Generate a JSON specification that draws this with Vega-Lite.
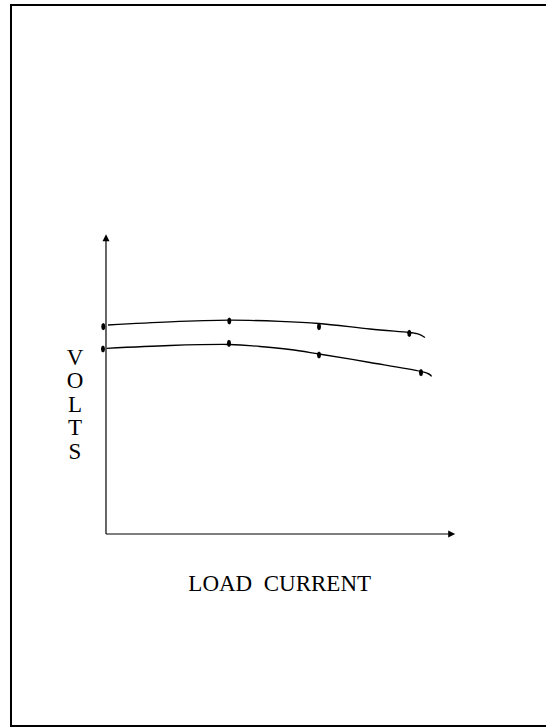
{
  "$schema": "https://vega.github.io/schema/vega-lite/v6.json",
  "width": 535,
  "height": 721,
  "autosize": {"type": "none"},
  "padding": {"left": 11, "top": 5, "right": 0, "bottom": 1},
  "background": "white",
  "config": {"view": {"stroke": null}, "font": "Liberation Serif"},
  "datasets": {
    "frame": [
      {"x": -2.714, "x2": 12.572, "y": 17.633, "y2": 17.633},
      {"x": -2.714, "x2": -2.714, "y": -6.4, "y2": 17.633},
      {"x": -2.714, "x2": 12.572, "y": -6.4, "y2": -6.4}
    ],
    "axes": [
      {"x": 0, "x2": 9.8, "y": 0, "y2": 0},
      {"x": 0, "x2": 0, "y": 0, "y2": 9.78}
    ],
    "arrows": [
      {"x": 9.877, "y": 0, "dir": "right"},
      {"x": 0, "y": 9.877, "dir": "up"}
    ],
    "curves": [
      {"curve": "upper", "current": 0.057, "volts": 6.967},
      {"curve": "upper", "current": 1.829, "volts": 7.073},
      {"curve": "upper", "current": 3.514, "volts": 7.127},
      {"curve": "upper", "current": 4.971, "volts": 7.09},
      {"curve": "upper", "current": 6.086, "volts": 7.017},
      {"curve": "upper", "current": 7.543, "volts": 6.833},
      {"curve": "upper", "current": 8.657, "volts": 6.717},
      {"curve": "upper", "current": 8.914, "volts": 6.667},
      {"curve": "upper", "current": 9.114, "volts": 6.55},
      {"curve": "lower", "current": 0.02, "volts": 6.19},
      {"curve": "lower", "current": 1.829, "volts": 6.283},
      {"curve": "lower", "current": 3.514, "volts": 6.317},
      {"curve": "lower", "current": 4.4, "volts": 6.25},
      {"curve": "lower", "current": 5.257, "volts": 6.15},
      {"curve": "lower", "current": 6.086, "volts": 6.0},
      {"curve": "lower", "current": 7.543, "volts": 5.717},
      {"curve": "lower", "current": 9.0, "volts": 5.417},
      {"curve": "lower", "current": 9.3, "volts": 5.25}
    ],
    "dots": [
      {"curve": "upper", "current": -0.077, "volts": 6.91},
      {"curve": "upper", "current": 3.523, "volts": 7.1},
      {"curve": "upper", "current": 6.086, "volts": 6.91},
      {"curve": "upper", "current": 8.666, "volts": 6.69},
      {"curve": "lower", "current": -0.086, "volts": 6.167},
      {"curve": "lower", "current": 3.514, "volts": 6.357},
      {"curve": "lower", "current": 6.086, "volts": 5.967},
      {"curve": "lower", "current": 9.0, "volts": 5.377}
    ],
    "labels": [
      {"text": "V\nO\nL\nT\nS", "x": -0.886, "y": 5.867, "role": "y"},
      {"text": "LOAD\u00a0\u00a0CURRENT", "x": 4.963, "y": -1.67, "role": "x"}
    ]
  },
  "layer": [
    {
      "data": {"name": "frame"},
      "mark": {"type": "rule", "color": "black", "strokeWidth": 2, "strokeCap": "square"},
      "encoding": {
        "x": {"field": "x", "type": "quantitative", "scale": {"domain": [-2.714, 12.572], "nice": false, "zero": false}, "axis": null},
        "x2": {"field": "x2"},
        "y": {"field": "y", "type": "quantitative", "scale": {"domain": [-6.4, 17.633], "nice": false, "zero": false}, "axis": null},
        "y2": {"field": "y2"}
      }
    },
    {
      "data": {"name": "axes"},
      "mark": {"type": "rule", "color": "black", "strokeWidth": 1.2},
      "encoding": {
        "x": {"field": "x", "type": "quantitative", "scale": {"domain": [-2.714, 12.572], "nice": false, "zero": false}, "axis": null},
        "x2": {"field": "x2"},
        "y": {"field": "y", "type": "quantitative", "scale": {"domain": [-6.4, 17.633], "nice": false, "zero": false}, "axis": null},
        "y2": {"field": "y2"}
      }
    },
    {
      "data": {"name": "arrows"},
      "transform": [{"filter": "datum.dir === 'right'"}],
      "mark": {"type": "point", "filled": true, "color": "black", "opacity": 1, "size": 49, "shape": "M -1 -1 L 1 0 L -1 1 Z"},
      "encoding": {
        "x": {"field": "x", "type": "quantitative", "scale": {"domain": [-2.714, 12.572], "nice": false, "zero": false}, "axis": null},
        "y": {"field": "y", "type": "quantitative", "scale": {"domain": [-6.4, 17.633], "nice": false, "zero": false}, "axis": null}
      }
    },
    {
      "data": {"name": "arrows"},
      "transform": [{"filter": "datum.dir === 'up'"}],
      "mark": {"type": "point", "filled": true, "color": "black", "opacity": 1, "size": 49, "shape": "M -1 1 L 0 -1 L 1 1 Z"},
      "encoding": {
        "x": {"field": "x", "type": "quantitative", "scale": {"domain": [-2.714, 12.572], "nice": false, "zero": false}, "axis": null},
        "y": {"field": "y", "type": "quantitative", "scale": {"domain": [-6.4, 17.633], "nice": false, "zero": false}, "axis": null}
      }
    },
    {
      "data": {"name": "curves"},
      "mark": {"type": "line", "color": "black", "strokeWidth": 1.3, "interpolate": "cardinal"},
      "encoding": {
        "x": {"field": "current", "type": "quantitative", "scale": {"domain": [-2.714, 12.572], "nice": false, "zero": false}, "axis": null},
        "y": {"field": "volts", "type": "quantitative", "scale": {"domain": [-6.4, 17.633], "nice": false, "zero": false}, "axis": null},
        "detail": {"field": "curve", "type": "nominal"}
      }
    },
    {
      "data": {"name": "dots"},
      "mark": {"type": "point", "filled": true, "color": "black", "opacity": 1, "size": 52, "shape": "M 0 -1 L 0.42 -0.72 L 0.56 0 L 0.42 0.72 L 0 1 L -0.42 0.72 L -0.56 0 L -0.42 -0.72 Z"},
      "encoding": {
        "x": {"field": "current", "type": "quantitative", "scale": {"domain": [-2.714, 12.572], "nice": false, "zero": false}, "axis": null},
        "y": {"field": "volts", "type": "quantitative", "scale": {"domain": [-6.4, 17.633], "nice": false, "zero": false}, "axis": null}
      }
    },
    {
      "data": {"name": "labels"},
      "transform": [{"filter": "datum.role === 'y'"}],
      "mark": {"type": "text", "color": "black", "font": "Liberation Serif", "fontSize": 23, "lineBreak": "\n", "lineHeight": 23.5, "align": "center", "baseline": "middle"},
      "encoding": {
        "x": {"field": "x", "type": "quantitative", "scale": {"domain": [-2.714, 12.572], "nice": false, "zero": false}, "axis": null},
        "y": {"field": "y", "type": "quantitative", "scale": {"domain": [-6.4, 17.633], "nice": false, "zero": false}, "axis": null},
        "text": {"field": "text"}
      }
    },
    {
      "data": {"name": "labels"},
      "transform": [{"filter": "datum.role === 'x'"}],
      "mark": {"type": "text", "color": "black", "font": "Liberation Serif", "fontSize": 23, "align": "center", "baseline": "middle"},
      "encoding": {
        "x": {"field": "x", "type": "quantitative", "scale": {"domain": [-2.714, 12.572], "nice": false, "zero": false}, "axis": null},
        "y": {"field": "y", "type": "quantitative", "scale": {"domain": [-6.4, 17.633], "nice": false, "zero": false}, "axis": null},
        "text": {"field": "text"}
      }
    }
  ]
}
